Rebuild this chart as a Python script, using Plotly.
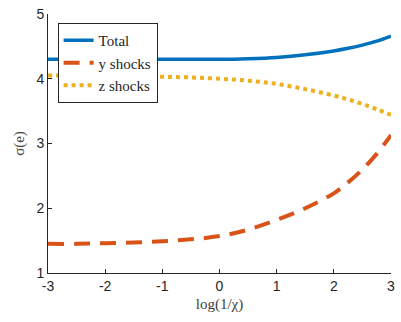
import plotly.graph_objects as go

# log(1/chi) grid and the standard deviation of e under each shock
x_vals = [-3, -2.5, -2, -1.5, -1, -0.5, 0, 0.5, 1, 1.5, 2, 2.25, 2.5, 2.75, 3]
total = [4.30, 4.30, 4.30, 4.30, 4.30, 4.30, 4.30, 4.31, 4.33, 4.37, 4.43, 4.47, 4.52, 4.58, 4.66]
y_shocks = [1.45, 1.45, 1.46, 1.47, 1.49, 1.52, 1.57, 1.67, 1.82, 2.00, 2.23, 2.40, 2.60, 2.84, 3.13]
z_shocks = [4.05, 4.05, 4.05, 4.04, 4.03, 4.02, 4.00, 3.97, 3.92, 3.84, 3.74, 3.68, 3.61, 3.53, 3.44]

x_ticks = [-3, -2, -1, 0, 1, 2, 3]
y_ticks = [1, 2, 3, 4, 5]

serif = "Liberation Serif, Times New Roman, serif"
sans = "Liberation Sans, Arial, sans-serif"
axis_col = "#262626"

fig = go.Figure()
fig.add_trace(go.Scatter(x=x_vals, y=total, mode="lines", name="Total",
                         line=dict(color="#0072BD", width=3.5, shape="spline", smoothing=1.0)))
fig.add_trace(go.Scatter(x=x_vals, y=y_shocks, mode="lines", name="y shocks",
                         line=dict(color="#D95319", width=4, dash="16px,10px", shape="spline", smoothing=1.0)))
fig.add_trace(go.Scatter(x=x_vals, y=z_shocks, mode="lines", name="z shocks",
                         line=dict(color="#EDB120", width=4, dash="dot", shape="spline", smoothing=1.0)))

fig.update_layout(
    width=401, height=322,
    margin=dict(l=48, r=6, t=14, b=49),
    paper_bgcolor="white", plot_bgcolor="white",
    showlegend=True,
    legend=dict(x=0.028, y=0.965, xanchor="left", yanchor="top",
                bgcolor="white", bordercolor=axis_col, borderwidth=1,
                font=dict(family=serif, size=15, color=axis_col),
                tracegroupgap=0, itemwidth=30),
    xaxis=dict(range=[-3, 3], tickvals=x_ticks, ticktext=[str(v) for v in x_ticks],
               showgrid=False, zeroline=False, showline=True, linecolor=axis_col, linewidth=1,
               ticks="inside", ticklen=4, tickcolor=axis_col,
               tickfont=dict(family=sans, size=14, color=axis_col),
               title=dict(text="log(1/χ)", font=dict(family=serif, size=15, color="#404040"), standoff=5)),
    yaxis=dict(range=[1, 5], tickvals=y_ticks,
               showgrid=False, zeroline=False, showline=True, linecolor=axis_col, linewidth=1,
               ticks="inside", ticklen=4, tickcolor=axis_col,
               tickfont=dict(family=sans, size=14, color=axis_col),
               title=dict(text="σ(e)", font=dict(family=serif, size=15, color="#404040"), standoff=8)),
)

fig.write_html("out.html")
